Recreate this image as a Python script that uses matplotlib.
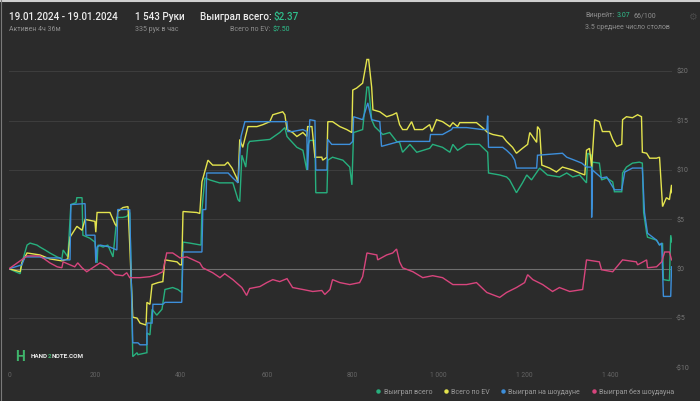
import matplotlib
matplotlib.use("Agg")
import matplotlib.pyplot as plt
from matplotlib.lines import Line2D

BG = "#2b2b2b"

# hands / dollars
green_hands = [0, 26, 30, 42, 49, 65, 72, 84, 95, 112, 123, 126, 137, 144, 156, 158, 170, 172, 188, 200,
               205, 207, 219, 230, 242, 251, 265, 274, 281, 284, 288, 298, 300, 321, 321, 328, 333, 344, 356, 363,
               381, 393, 402, 405, 421, 447, 449, 456, 467, 490, 521, 533, 537, 542, 551, 556, 560, 607, 630, 642,
               647, 653, 670, 684, 693, 695, 700, 712, 714, 740, 742, 753, 777, 793, 798, 802, 823, 833, 837, 844,
               851, 870, 886, 902, 909, 916, 933, 949, 979, 986, 1009, 1026, 1033, 1044, 1065, 1095, 1114, 1116, 1142, 1158,
               1165, 1181, 1195, 1205, 1216, 1235, 1253, 1281, 1298, 1312, 1328, 1344, 1347, 1356, 1356, 1358, 1374, 1379, 1391, 1405,
               1409, 1426, 1428, 1437, 1451, 1467, 1474, 1477, 1484, 1486, 1507, 1514, 1521, 1523, 1537, 1540, 1543]
green_vals = [0, -0.5, 0.6, 2.4, 2.6, 2.4, 2.2, 1.9, 1.6, 1.2, 1.0, 1.9, 1.2, 6.5, 6.7, 7.2, 7.2, 3.4, 3.1, 2.7,
              0.6, 2.4, 2.2, 2.4, 1.2, 5.2, 5.2, 5.3, 5.7, 0.2, -8.9, -8.5, -8.7, -8.5, -6.5, -6.7, -4.1, -4.7, -4.1, -2.1,
              -1.9, -2.1, -2.4, 2.7, 2.6, 2.4, 6.0, 9.2, 9.0, 8.7, 8.7, 7.0, 6.8, 11.5, 10.3, 12.6, 12.9, 13.1, 13.8, 14.3,
              13.4, 13.1, 12.3, 12.0, 10.0, 12.5, 13.0, 13.0, 7.7, 7.7, 11.0, 11.3, 11.0, 10.3, 8.5, 13.8, 14.1, 18.4, 18.4, 15.1,
              14.4, 13.6, 13.8, 12.9, 12.8, 11.8, 12.6, 11.8, 12.2, 12.6, 12.3, 11.8, 12.6, 12.0, 12.6, 12.6, 11.8, 9.7, 9.5, 9.3,
              9.0, 7.7, 8.7, 9.5, 9.0, 10.2, 9.5, 9.3, 9.7, 9.3, 9.5, 8.7, 11.7, 11.5, 6.0, 10.8, 10.7, 9.0, 9.2, 8.8,
              7.8, 7.8, 9.7, 10.3, 10.7, 10.8, 10.7, 5.7, 3.6, 3.2, 2.9, 2.4, 2.6, -1.1, -1.2, 3.4, 2.7]

ev_hands = [0, 26, 30, 42, 72, 95, 123, 137, 142, 158, 170, 177, 200, 202, 205, 219, 235, 247, 251, 253,
            265, 277, 281, 288, 298, 305, 319, 321, 328, 333, 347, 358, 363, 391, 398, 402, 405, 437, 444, 449,
            463, 474, 502, 509, 519, 530, 533, 537, 544, 556, 577, 591, 607, 614, 637, 642, 647, 660, 670, 684,
            693, 695, 705, 712, 728, 730, 740, 742, 753, 770, 786, 798, 800, 809, 823, 833, 837, 844, 847, 863,
            879, 893, 902, 909, 916, 926, 937, 944, 963, 979, 984, 995, 1009, 1026, 1033, 1044, 1049, 1088, 1102, 1114,
            1126, 1149, 1158, 1172, 1181, 1195, 1207, 1212, 1228, 1230, 1235, 1240, 1258, 1274, 1288, 1312, 1328, 1340, 1344, 1351,
            1356, 1363, 1374, 1381, 1398, 1405, 1414, 1426, 1428, 1437, 1451, 1463, 1472, 1474, 1484, 1491, 1507, 1514, 1521, 1530,
            1537, 1542, 1543]
ev_vals = [0, -0.3, 0.6, 1.6, 1.4, 1.0, 0.8, 1.0, 3.2, 4.3, 3.9, 5.0, 4.8, 3.7, 5.7, 5.7, 5.7, 4.5, 4.3, 5.8,
           6.2, 6.3, 2.4, -4.9, -5.0, -5.5, -5.7, -3.4, -3.6, -1.6, -1.4, -1.3, 0.9, 0.7, 0.4, 0.4, 5.8, 5.7, 5.6, 8.8,
           11.0, 10.5, 10.5, 10.8, 10.2, 9.2, 8.7, 13.1, 12.3, 14.4, 14.4, 14.6, 14.9, 15.6, 15.9, 15.6, 14.1, 13.8, 13.4, 13.8,
           13.4, 14.4, 14.4, 11.3, 11.3, 11.0, 11.3, 14.9, 14.9, 14.4, 14.1, 13.8, 18.1, 18.3, 18.8, 21.2, 21.2, 18.4, 16.1, 15.9,
           15.4, 15.6, 15.8, 14.6, 14.1, 14.1, 14.9, 14.1, 14.1, 14.6, 13.9, 15.1, 14.9, 14.4, 14.8, 14.4, 14.8, 14.8, 14.3, 13.8,
           13.6, 13.4, 12.9, 12.3, 11.7, 12.2, 12.6, 13.8, 12.8, 14.4, 14.1, 10.5, 10.2, 9.8, 10.3, 10.0, 9.7, 9.5, 12.0, 12.2,
           10.3, 15.1, 14.9, 13.9, 13.9, 13.1, 12.4, 12.6, 15.1, 15.4, 15.3, 15.6, 15.4, 11.8, 11.7, 11.2, 11.2, 11.3, 6.3, 7.2,
           7.0, 8.5, 7.7]

sd_hands = [0, 30, 37, 72, 79, 119, 123, 142, 144, 177, 179, 200, 202, 205, 212, 235, 251, 253, 281, 284,
            288, 300, 305, 321, 321, 333, 335, 358, 363, 402, 405, 449, 451, 458, 460, 510, 521, 533, 540, 549,
            647, 649, 660, 684, 693, 695, 700, 712, 714, 740, 742, 751, 793, 800, 802, 823, 835, 844, 863, 867,
            909, 979, 981, 1009, 1030, 1033, 1065, 1102, 1112, 1114, 1116, 1149, 1158, 1170, 1177, 1181, 1228, 1230, 1288, 1298,
            1316, 1333, 1344, 1356, 1356, 1358, 1379, 1391, 1405, 1409, 1426, 1433, 1442, 1451, 1474, 1479, 1486, 1507, 1514, 1519,
            1523, 1540, 1542]
sd_vals = [0, 0.4, 1.2, 1.2, 1.1, 1.1, 0.9, 0.9, 6.5, 6.6, 3.4, 3.4, 0.6, 2.2, 2.4, 2.2, 1.9, 6.0, 6.0, -0.1,
           -7.5, -7.5, -7.7, -7.7, -5.5, -5.5, -3.6, -3.6, -3.4, -3.4, 1.7, 1.7, 6.0, 6.0, 9.7, 9.7, 9.2, 8.7, 13.4, 14.9,
           14.9, 13.9, 13.9, 14.1, 13.9, 10.0, 15.1, 15.0, 10.0, 10.0, 13.1, 12.6, 12.6, 12.9, 15.4, 15.1, 16.8, 15.1, 14.9, 12.4,
           12.9, 12.9, 13.6, 13.6, 14.1, 14.3, 14.3, 14.1, 14.1, 15.5, 12.3, 12.3, 12.0, 11.5, 11.0, 10.2, 10.2, 11.5, 11.7, 11.3,
           11.0, 10.7, 10.3, 10.3, 5.2, 10.0, 9.2, 9.3, 8.3, 8.0, 8.0, 9.8, 10.0, 10.2, 10.2, 5.7, 3.6, 2.9, 2.4, 2.6,
           -2.8, -2.8, 0.2]

nsd_hands = [0, 42, 72, 79, 95, 112, 123, 126, 142, 153, 160, 170, 181, 205, 212, 228, 235, 247, 265, 274,
             281, 305, 328, 344, 358, 367, 381, 398, 414, 444, 451, 474, 491, 502, 521, 542, 553, 560, 584, 600,
             614, 630, 647, 660, 684, 707, 728, 735, 747, 753, 770, 793, 816, 823, 833, 856, 858, 879, 893, 902,
             909, 916, 940, 963, 986, 1009, 1033, 1065, 1088, 1112, 1142, 1158, 1181, 1200, 1207, 1219, 1242, 1265, 1281, 1305,
             1335, 1344, 1374, 1379, 1405, 1428, 1460, 1463, 1484, 1486, 1507, 1519, 1526, 1537, 1542]
nsd_vals = [0, 1.3, 1.3, 1.1, 0.6, 0.2, 0.1, 0.7, 0.4, 0.2, 0.6, 0.1, -0.3, 0.4, 0.6, 0.2, -0.1, -0.6, -0.7, -0.4,
            -0.9, -0.9, -0.8, -0.6, -0.3, 1.6, 1.6, 1.1, 1.2, 0.6, 0.1, -0.4, -0.9, -0.5, -1.1, -1.9, -2.7, -2.0, -1.8, -1.4,
            -1.1, -1.3, -1.0, -1.9, -2.1, -2.3, -2.2, -2.6, -2.1, -1.1, -1.4, -1.6, -1.4, -0.8, 1.6, 1.4, 0.9, 1.4, 1.6, 2.0,
            0.7, 0.1, -0.3, -0.9, -0.7, -0.9, -1.6, -1.6, -1.4, -2.4, -2.9, -2.4, -1.9, -1.4, -0.6, -1.1, -1.6, -2.3, -1.9, -2.3,
            -2.1, 0.9, 0.7, -0.1, -0.3, 0.9, 0.7, 0.4, 0.9, 0.1, 0.2, 0.7, 1.7, 1.7, 0.9]

series_labels = ["Выиграл всего", "Всего по EV", "Выиграл на шоудауне", "Выиграл без шоудауна"]
series_colors = ["#27b07e", "#e4e44e", "#3d8fdb", "#d8457d"]

y_ticks = [-10, -5, 0, 5, 10, 15, 20]
y_labels = ["-$10", "-$5", "$0", "$5", "$10", "$15", "$20"]
x_ticks = [0, 200, 400, 600, 800, 1000, 1200, 1400]
x_labels = ["0", "200", "400", "600", "800", "1 000", "1 200", "1 400"]


def px(x, y):
    # pixel position in the 700x401 screenshot -> figure fraction
    return x / 700, 1 - y / 401


def main():
    plt.rcParams['font.family'] = ['Roboto', 'DejaVu Sans']
    fig = plt.figure(figsize=(7, 4.01), dpi=100, facecolor=BG)
    ax = fig.add_axes([9 / 700, 1 - 367.5 / 401, 663 / 700, 311 / 401])
    ax.set_facecolor(BG)
    ax.set_xlim(0, 1543)
    ax.set_ylim(-10, 21.5)
    for s in ax.spines.values():
        s.set_visible(False)

    for v in y_ticks:
        ax.axhline(v, color="#6e6e6e" if v == 0 else "#3d3d3d", lw=0.8, zorder=0)

    data = [(green_hands, green_vals), (ev_hands, ev_vals),
            (sd_hands, sd_vals), (nsd_hands, nsd_vals)]
    for (h, v), lab, c in zip(data, series_labels, series_colors):
        ax.plot(h, v, color=c, lw=1.0, label=lab, solid_joinstyle='miter')

    ax.yaxis.tick_right()
    ax.set_yticks(y_ticks, y_labels)
    ax.set_xticks(x_ticks, x_labels)
    ax.tick_params(axis='y', length=0, pad=3, labelsize=5, labelcolor="#757575")
    ax.tick_params(axis='x', length=0, pad=3, labelsize=4.8, labelcolor="#656565")

    # header
    white = "#ececec"
    gray = "#8e8e8e"
    green = "#2fbf8c"
    fig.text(*px(9, 17), "19.01.2024 - 19.01.2024", color=white, fontsize=7.1, weight='medium', va='center')
    fig.text(*px(9, 29.5), "Активен 4ч 36м", color=gray, fontsize=5, va='center')
    fig.text(*px(135, 17), "1 543 Руки", color=white, fontsize=7.1, weight='medium', va='center')
    fig.text(*px(135, 29.5), "335 рук в час", color=gray, fontsize=5, va='center')
    fig.text(*px(272, 17), "Выиграл всего:", color=white, fontsize=7.1, weight='medium', va='center', ha='right')
    fig.text(*px(274, 17), "$2.37", color=green, fontsize=7.1, weight='medium', va='center')
    fig.text(*px(271, 29.5), "Всего по EV:", color=gray, fontsize=5, va='center', ha='right')
    fig.text(*px(273, 29.5), "$7.50", color=green, fontsize=5, va='center')
    fig.text(*px(585, 15.5), "Винрейт:", color=gray, fontsize=5, va='center')
    fig.text(*px(617, 15.5), "3.07", color=green, fontsize=5, va='center')
    fig.text(*px(634, 15.5), "66/100", color=gray, fontsize=5, va='center')
    fig.text(*px(585, 27.5), "3.5 среднее число столов", color=gray, fontsize=5, va='center')
    fig.text(*px(692, 17), "\u2699", color="#4a4a4a", fontsize=7, va='center', ha='center',
             family='DejaVu Sans')

    # logo
    fig.text(*px(20, 357), "H", color="#3fb56b", fontsize=10, weight='bold', va='center', ha='center')
    t = fig.text(*px(31, 357), "HAND", color=white, fontsize=4.6, weight='bold', va='center')
    t = ax.annotate("2", xy=(1, 0), xycoords=t, va='bottom', color="#3fb56b", fontsize=4.6, weight='bold')
    ax.annotate("NOTE.COM", xy=(1, 0), xycoords=t, va='bottom', color=white, fontsize=4.6, weight='bold')

    # legend
    handles = [Line2D([], [], ls='none', marker='o', markersize=2.2, color=c) for c in series_colors]
    fig.legend(handles, series_labels, loc='center right', bbox_to_anchor=px(674, 392), ncol=4,
               frameon=False, fontsize=5, labelcolor="#9a9a9a", handlelength=0.5, handletextpad=0.5,
               columnspacing=1.7, borderaxespad=0, borderpad=0)

    # screenshot frame
    fig.add_artist(Line2D([0, 1], [1 - 1 / 401] * 2, transform=fig.transFigure, color="#cfcfcf", lw=1.5))
    fig.add_artist(Line2D([0.5 / 700] * 2, [0, 1], transform=fig.transFigure, color="#7a7a7a", lw=0.8))

    fig.savefig("out.png", dpi=100, facecolor=BG)


if __name__ == "__main__":
    main()
